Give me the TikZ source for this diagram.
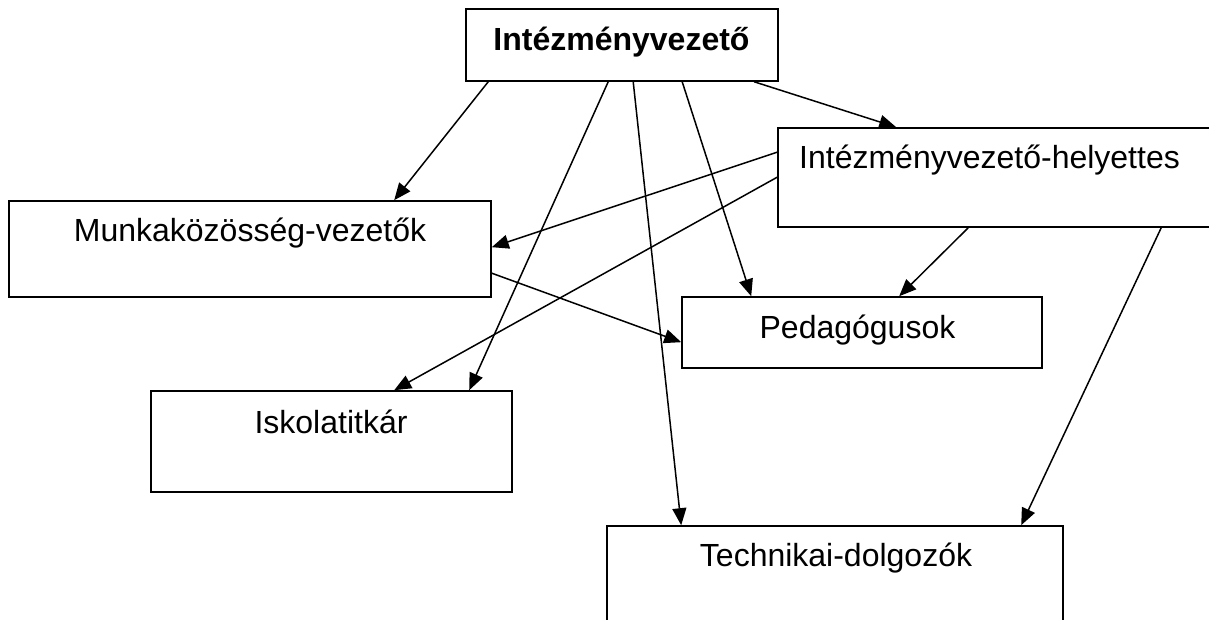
\documentclass[tikz,border=0pt]{standalone}
\usepackage{fontspec}
\setmainfont{Liberation Sans}
\usetikzlibrary{arrows.meta}
\begin{document}
\begin{tikzpicture}[x=1pt,y=-1pt,
  box/.style={draw,line width=1.6pt,inner sep=0pt,minimum width=#1},
  lbl/.style={anchor=base,inner sep=0pt,font=\fontsize{32}{36}\selectfont},
  conn/.style={line width=1.5pt,-{Triangle[length=17pt,width=14pt]}}]
\useasboundingbox (0,0) rectangle (1209,620);
% boxes
\node[box=312pt,minimum height=72pt] (iv) at (622,45) {};
\node[box=447pt,minimum height=99pt] (ih) at (1001.5,177.5) {};
\node[box=482pt,minimum height=96pt] (mk) at (250,249) {};
\node[box=360pt,minimum height=71pt] (pe) at (862,332.5) {};
\node[box=361pt,minimum height=101pt] (is) at (331.5,441.5) {};
\node[box=456pt,minimum height=114pt] (tk) at (835,583) {};
% texts
\node[lbl,font=\fontsize{32}{36}\selectfont\bfseries] (tiv) at (621.5,51) {Intézményvezető};
\node[lbl,anchor=base west] (tih) at (799,169) {Intézményvezető-helyettes};
\node[lbl] (tmk) at (250,242) {Munkaközösség-vezetők};
\node[lbl] (tpe) at (857.5,338) {Pedagógusok};
\node[lbl] (tis) at (331,433) {Iskolatitkár};
\node[lbl] (ttk) at (836,566) {Technikai-dolgozók};
% connectors
\draw[conn] ([xshift=23pt]iv.south west) -- ([xshift=386pt]mk.north west);
\draw[conn] ([xshift=143pt]iv.south west) -- ([xshift=319pt]is.north west);
\draw[conn] ([xshift=168pt]iv.south west) -- ([xshift=75pt]tk.north west);
\draw[conn] ([xshift=217pt]iv.south west) -- ([xshift=70pt]pe.north west);
\draw[conn] ([xshift=289pt]iv.south west) -- ([xshift=119pt]ih.north west);
\draw[conn] ([yshift=-25pt]ih.north west) -- ([yshift=-47pt]mk.north east);
\draw[conn] ([yshift=-50pt]ih.north west) -- ([xshift=244pt]is.north west);
\draw[conn] ([xshift=191pt]ih.south west) -- ([xshift=218pt]pe.north west);
\draw[conn] ([xshift=384pt]ih.south west) -- ([xshift=415pt]tk.north west);
\draw[conn] ([yshift=-73pt]mk.north east) -- ([yshift=-46pt]pe.north west);
\end{tikzpicture}
\end{document}
